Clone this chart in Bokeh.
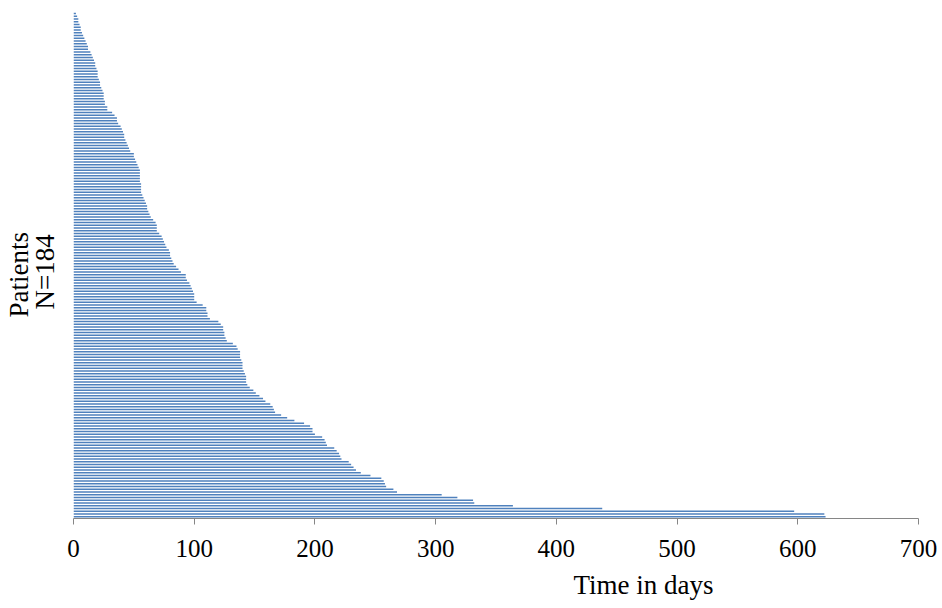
from bokeh.plotting import figure
from bokeh.models import Range1d, FixedTicker, ColumnDataSource, Title
from bokeh.embed import file_html
from bokeh.resources import INLINE

# Time on study (days) per patient, sorted shortest (top) to longest (bottom)
days = [
    2, 3, 4, 4, 5, 6, 6, 7, 8, 9,
    10, 11, 12, 12, 14, 15, 16, 17, 18, 18,
    19, 20, 20, 20, 21, 22, 22, 23, 24, 25,
    25, 25, 26, 26, 28, 28, 32, 34, 36, 36,
    37, 39, 40, 41, 42, 42, 43, 44, 45, 46,
    47, 50, 50, 51, 52, 53, 54, 55, 55, 55,
    55, 55, 56, 56, 56, 56, 57, 58, 59, 60,
    61, 61, 62, 63, 64, 66, 68, 69, 69, 69,
    71, 73, 74, 75, 76, 77, 79, 80, 80, 81,
    82, 83, 85, 87, 89, 93, 93, 94, 96, 97,
    98, 99, 100, 100, 100, 102, 107, 110, 110, 111,
    111, 113, 120, 122, 124, 124, 125, 125, 126, 127,
    132, 135, 136, 138, 138, 138, 139, 140, 140, 140,
    141, 142, 143, 143, 143, 144, 146, 149, 151, 154,
    157, 159, 163, 165, 166, 167, 172, 177, 183, 191,
    196, 198, 198, 200, 206, 208, 209, 210, 216, 218,
    220, 221, 222, 228, 230, 232, 234, 238, 246, 255,
    257, 258, 259, 265, 268, 305, 318, 331, 332, 364,
    438, 597, 622, 623,
]
patients = list(range(1, len(days) + 1))
x_ticks = [0, 100, 200, 300, 400, 500, 600, 700]
x_title = "Time in days"
y_title_1 = "Patients"
y_title_2 = "N=%d" % len(days)

W, H = 940, 608
FONT = "Liberation Serif"

p = figure(width=W, height=H, output_backend="svg", toolbar_location=None,
           x_range=Range1d(0, 700), y_range=Range1d(184.64, 0.27),
           y_axis_location=None,
           min_border=0, min_border_left=73, min_border_right=22,
           min_border_top=11, min_border_bottom=90)
p.outline_line_color = None
p.background_fill_color = "white"
p.border_fill_color = "white"

src = ColumnDataSource(dict(y=patients, right=days))
p.hbar(y="y", left=0, right="right", height=0.62, source=src,
       fill_color="#4F81BD", line_color=None)

p.xgrid.visible = False
p.ygrid.visible = False

xa = p.xaxis[0]
xa.ticker = FixedTicker(ticks=x_ticks)
xa.minor_tick_line_color = None
xa.major_tick_in = 0
xa.major_tick_out = 6
xa.axis_line_color = "#868686"
xa.major_tick_line_color = "#868686"
xa.major_label_text_font = FONT
xa.major_label_text_font_size = "25px"
xa.major_label_text_color = "black"
xa.major_label_standoff = 15

p.add_layout(Title(text=x_title, align="left", offset=500, standoff=17,
                   text_font=FONT, text_font_size="27px", text_font_style="normal",
                   text_color="black"), "below")
p.add_layout(Title(text=y_title_2, align="left", offset=209, standoff=27,
                   text_font=FONT, text_font_size="27px", text_font_style="normal",
                   text_color="black"), "left")
p.add_layout(Title(text=y_title_1, align="left", offset=201, standoff=-39,
                   text_font=FONT, text_font_size="27px", text_font_style="normal",
                   text_color="black"), "left")

open("out.html", "w").write(file_html(p, INLINE))
